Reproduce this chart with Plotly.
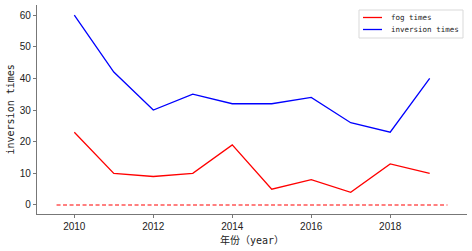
import plotly.graph_objects as go

years = [2010, 2011, 2012, 2013, 2014, 2015, 2016, 2017, 2018, 2019]
fog_times = [23, 10, 9, 10, 19, 5, 8, 4, 13, 10]
inversion_times = [60, 42, 30, 35, 32, 32, 34, 26, 23, 40]
baseline_x = [2009.55, 2019.45]
baseline_y = [0, 0]
series_names = ["fog times", "inversion times"]
series_colors = ["#ff0000", "#0000ff"]

font_mono = "DejaVu Sans Mono, Noto Sans CJK SC"
font_tick = "Liberation Sans, Arial, DejaVu Sans"

W, H = 472, 251
L, R, T, B = 37, 5, 5, 37
pw, ph = W - L - R, H - T - B


def px(x):
    return (x - L) / pw


def py(y):
    return (H - B - y) / ph


fig = go.Figure()
fig.add_trace(go.Scatter(x=years, y=fog_times, mode="lines", name=series_names[0],
                         line=dict(color=series_colors[0], width=1.3), showlegend=False))
fig.add_trace(go.Scatter(x=years, y=inversion_times, mode="lines", name=series_names[1],
                         line=dict(color=series_colors[1], width=1.3), showlegend=False))
fig.add_trace(go.Scatter(x=baseline_x, y=baseline_y, mode="lines", showlegend=False,
                         line=dict(color="#ff0000", width=1.2, dash="4px,2.5px")))

# legend drawn as shapes + text (matplotlib-like compact box)
shapes = [dict(type="rect", xref="paper", yref="paper",
               x0=px(359), x1=px(463), y0=py(38), y1=py(10),
               line=dict(color="#d9d9d9", width=1), fillcolor="rgba(255,255,255,0.85)", layer="above")]
annotations = []
for i, (nm, col) in enumerate(zip(series_names, series_colors)):
    yy = 17.5 + i * 12
    shapes.append(dict(type="line", xref="paper", yref="paper",
                       x0=px(363), x1=px(382), y0=py(yy), y1=py(yy),
                       line=dict(color=col, width=1.3), layer="above"))
    annotations.append(dict(text=nm, xref="paper", yref="paper", x=px(389), y=py(yy),
                            xanchor="left", yanchor="middle", showarrow=False,
                            font=dict(family=font_mono, size=7.5, color="#222")))

annotations += [
    dict(text="年份（year）", xref="paper", yref="paper", x=0.5, y=0, yshift=-26,
         xanchor="center", yanchor="middle", showarrow=False,
         font=dict(family=font_mono, size=10, color="#222")),
    dict(text="inversion times", xref="paper", yref="paper", x=0, xshift=-27, y=0.5,
         xanchor="center", yanchor="middle", textangle=-90, showarrow=False,
         font=dict(family=font_mono, size=10, color="#222")),
]

fig.update_layout(
    width=W, height=H,
    margin=dict(l=L, r=R, t=T, b=B),
    paper_bgcolor="white", plot_bgcolor="white",
    showlegend=False,
    xaxis=dict(range=[2009.055, 2019.945], tickvals=[2010, 2012, 2014, 2016, 2018],
               showgrid=False, zeroline=False, showline=True, linecolor="#777", linewidth=1.2,
               ticks="outside", ticklen=3, tickcolor="#777", automargin=False,
               tickfont=dict(family=font_tick, size=10, color="#222")),
    yaxis=dict(range=[-2.85, 63.2], tickvals=[0, 10, 20, 30, 40, 50, 60],
               showgrid=False, zeroline=False, showline=True, linecolor="#777", linewidth=1.2,
               ticks="outside", ticklen=3, tickcolor="#777", automargin=False,
               tickfont=dict(family=font_tick, size=10, color="#222")),
    shapes=shapes,
    annotations=annotations,
)

fig.write_html("out.html", config={"displayModeBar": False},
               post_script="document.body.style.margin='0';document.body.style.padding='0';")
